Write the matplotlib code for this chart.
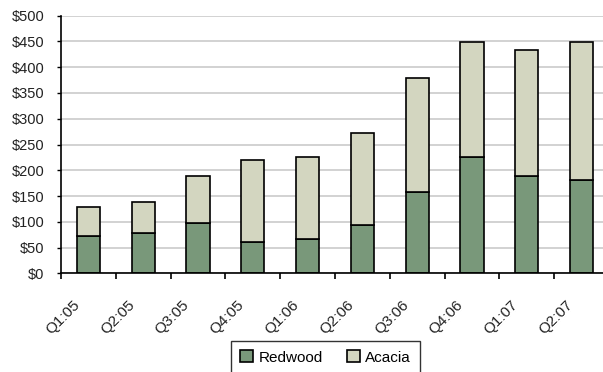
import matplotlib
matplotlib.use("Agg")
import matplotlib.pyplot as plt
import matplotlib.transforms as mtransforms
import numpy as np
from matplotlib.ticker import FuncFormatter, MultipleLocator

plt.rcParams['font.family'] = ['Liberation Sans', 'DejaVu Sans']

quarters = ["Q1:05", "Q2:05", "Q3:05", "Q4:05", "Q1:06",
            "Q2:06", "Q3:06", "Q4:06", "Q1:07", "Q2:07"]
redwood = [72, 79, 97, 60, 67, 94, 157, 226, 188, 181]
acacia = [56, 59, 91, 159, 158, 178, 223, 223, 245, 268]

redwood_color = "#79987a"
acacia_color = "#d3d6c0"

W, H = 603, 372
fig = plt.figure(figsize=(W / 100, H / 100), dpi=100)
ax = fig.add_axes([61 / W, 1 - 273.3 / H, 548 / W, (273.3 - 15.7) / H])

x = np.arange(len(quarters))
bw = 0.42
ax.bar(x, redwood, bw, color=redwood_color, edgecolor="black", linewidth=1.2,
       label="Redwood", zorder=3)
ax.bar(x, acacia, bw, bottom=redwood, color=acacia_color, edgecolor="black",
       linewidth=1.2, label="Acacia", zorder=3)

ax.set_xlim(-0.5, len(quarters) - 0.5)
ax.set_ylim(0, 500)
ax.yaxis.set_major_locator(MultipleLocator(50))
ax.yaxis.set_major_formatter(FuncFormatter(lambda v, p: f"${v:.0f}"))
ax.grid(axis="y", color="#c6c6c6", linewidth=1.1, zorder=0)

# category boundary ticks, labels centred under each bar
ax.set_xticks(np.arange(len(quarters) + 1) - 0.5)
ax.set_xticklabels([])
ax.set_xticks(x, minor=True)
ax.set_xticklabels(quarters, minor=True, rotation=45, ha="right", va="top",
                   rotation_mode="anchor", fontsize=11, color="#222222")
ax.tick_params(axis="x", which="minor", length=0, pad=17.5)
ax.tick_params(axis="x", which="major", length=4, width=1.2, color="black")
ax.tick_params(axis="y", length=3, width=1.0, labelsize=10.5,
               labelcolor="#222222", pad=9)

shift = mtransforms.ScaledTranslation(-16 / 100, 0, fig.dpi_scale_trans)
for lab in ax.get_xticklabels(minor=True):
    lab.set_transform(lab.get_transform() + shift)

for s in ("top", "right"):
    ax.spines[s].set_visible(False)
for s in ("left", "bottom"):
    ax.spines[s].set_linewidth(1.2)
    ax.spines[s].set_color("black")
    ax.spines[s].set_zorder(4)

leg = fig.legend(loc="upper center", bbox_to_anchor=(325.5 / W, 1 - 341 / H),
                 ncol=2, fontsize=11, frameon=True, fancybox=False,
                 edgecolor="black", handlelength=0.85, handleheight=0.85,
                 handletextpad=0.35, columnspacing=1.6, borderpad=0.6,
                 borderaxespad=0)
leg.get_frame().set_linewidth(1.0)

fig.savefig("out.png", dpi=100)
